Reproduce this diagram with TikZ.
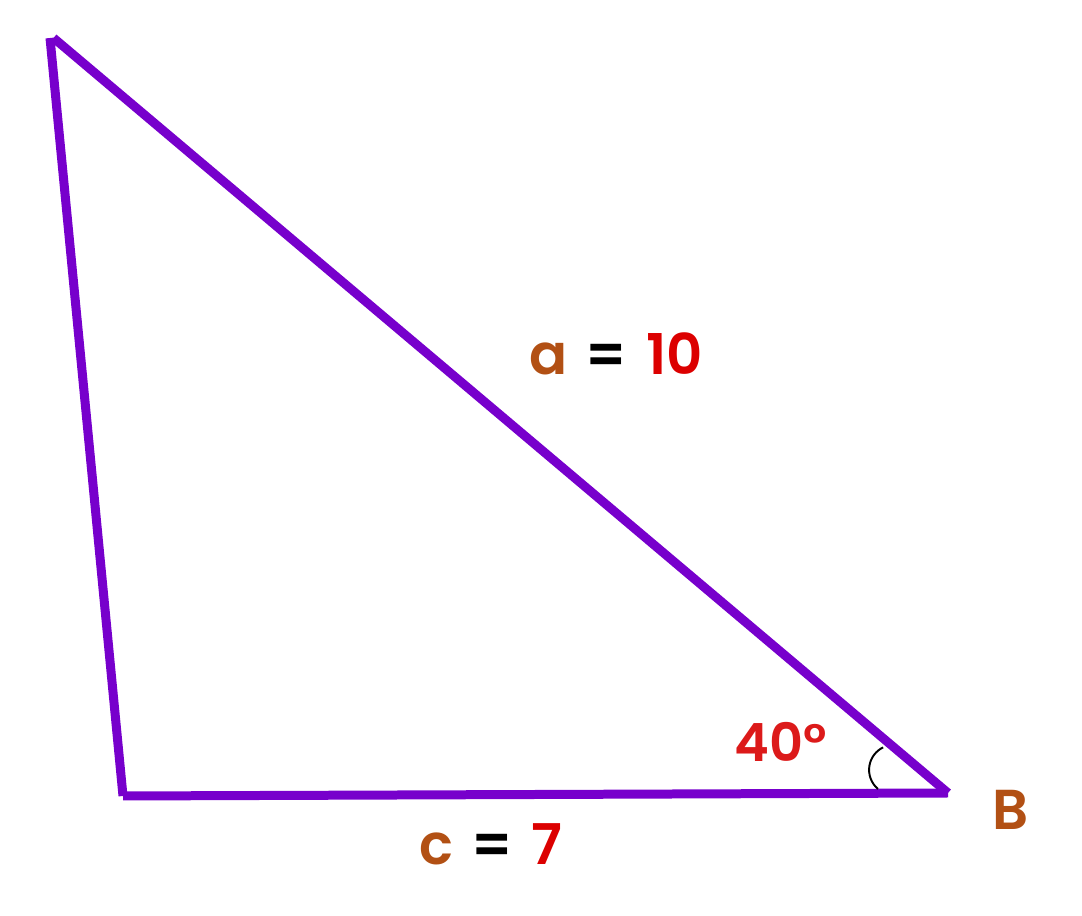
\documentclass[tikz,border=0pt]{standalone}
\usepackage{fontspec}
\setmainfont{Poppins}[BoldFont={Poppins SemiBold}]
\usepackage{tikz}
\usetikzlibrary{positioning}
\definecolor{sidepurple}{RGB}{119,0,204}
\definecolor{namebrown}{RGB}{178,80,20}
\definecolor{valred}{RGB}{220,0,0}
\definecolor{angred}{RGB}{220,26,26}
\tikzstyle{side} = [line width=0.18cm, sidepurple, line cap=butt]
\tikzstyle{lbl} = [anchor=base, font=\fontsize{32}{36}\selectfont\bfseries, inner sep=0pt]
\newcommand{\gap}{\hspace{0.33em}}

\begin{document}
\begin{tikzpicture}[x=0.02cm, y=0.02cm]

   % keep the page size of the reference
   \useasboundingbox (0,0) rectangle (1082,916);

   % corners of the triangle
   \coordinate (A) at (50,878);
   \coordinate (C) at (123,120);
   \coordinate (B) at (948,123);

   % sides
   \draw[side] (A) -- (C);
   \draw[side] (C) -- (B);
   \draw[side] ([xshift=2]A) -- (B);

   % angle mark at B
   \draw[black, line width=1.1pt] ([shift={(-70,4)}]B) arc (230:116:25);

   % labels
   \node[lbl] (lbla) at (616,541) {\textcolor{namebrown}{a}\gap=\gap\textcolor{valred}{10}};
   \node[lbl] (lblc) at (491,51) {\textcolor{namebrown}{c}\gap=\gap\textcolor{valred}{7}};
   \node[lbl, text=angred, font=\fontsize{30}{34}\selectfont\bfseries] (ang) at (781,154) {40°};
   \node[lbl, text=namebrown] (lblB) at (1011,86) {B};

\end{tikzpicture}
\end{document}
